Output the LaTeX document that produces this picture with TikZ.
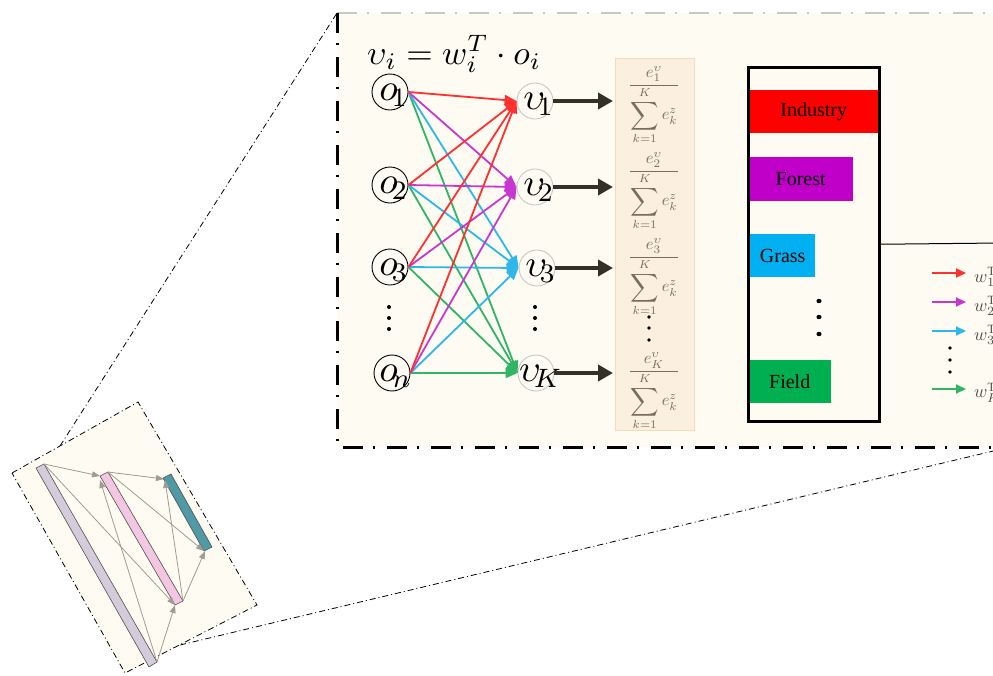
\documentclass[tikz,border=0pt]{standalone}
\usepackage{fontspec}
\setmainfont{Liberation Serif}
\usetikzlibrary{arrows.meta,calc}
\definecolor{cream}{RGB}{253,251,242}
\definecolor{ered}{RGB}{255,48,48}
\definecolor{emag}{RGB}{200,55,208}
\definecolor{ecyan}{RGB}{45,183,234}
\definecolor{egreen}{RGB}{48,181,102}
\definecolor{darkarrow}{RGB}{51,48,40}
\definecolor{fracfill}{RGB}{251,239,224}
\definecolor{fracborder}{RGB}{248,217,186}
\definecolor{fractext}{RGB}{120,110,95}
\definecolor{barred}{RGB}{255,0,0}
\definecolor{barmag}{RGB}{192,0,200}
\definecolor{barcyan}{RGB}{0,176,240}
\definecolor{bargreen}{RGB}{0,176,80}
\definecolor{sgray}{RGB}{160,156,148}
\definecolor{vgray}{RGB}{200,200,200}
\definecolor{bara}{RGB}{213,204,219}
\definecolor{barb}{RGB}{243,198,226}
\definecolor{barc}{RGB}{79,154,165}
\definecolor{legtxt}{RGB}{80,80,80}
\newcommand\bigsumsym{\mathop{\vcenter{\hbox{\scalebox{1.2}{$\displaystyle\sum$}}}}\limits}
\newcommand\fracsm[1]{\scalebox{1.65}{$\displaystyle\frac{e_{#1}^{\upsilon}}{\displaystyle\bigsumsym_{k=1}^{K} e_k^{z}}$}}
\newcommand\nlab[2]{\scalebox{3.8}{$#1_{\kern-1.6pt #2}$}}
\begin{document}
\begin{tikzpicture}[x=1pt,y=-1pt,
  onode/.style={circle,draw=black,line width=0.9pt,minimum size=36pt,inner sep=0pt},
  vnode/.style={circle,draw=vgray,line width=0.9pt,minimum size=36pt,inner sep=0pt},
  ntext/.style={inner sep=0pt},
  wedge/.style={line width=1.8pt,-{Triangle[length=12pt,width=10pt]}},
  bigarrow/.style={line width=4pt,draw=darkarrow,-{Triangle[length=15pt,width=16pt]},shorten >=2pt},
  fractxt/.style={inner sep=0pt,text=fractext,anchor=base},
  catbar/.style={inner sep=0pt,anchor=north west,font=\fontsize{20}{24}\selectfont,text=black},
  legarrow/.style={line width=2pt,-{Triangle[length=10pt,width=9pt]}},
  legtext/.style={inner sep=0pt,anchor=west,text=legtxt},
  sarrow/.style={draw=sgray,line width=0.8pt,-{Triangle[length=8pt,width=6pt,fill=sgray]}},
  sbar/.style={draw={rgb,255:red,80;green,80;blue,80},line width=0.6pt},
  bigdash/.style={line width=3pt,dash pattern=on 20pt off 10pt on 2pt off 12pt},
  topdash/.style={line width=1.5pt,draw=vgray,dash pattern=on 20pt off 10pt on 2pt off 12pt},
  smalldash/.style={line width=0.8pt,dash pattern=on 6pt off 3pt on 1pt off 3pt}
]
\useasboundingbox (0,0) rectangle (993,675);

% ---------- connector lines between the panels
\coordinate (sp1) at (60,446);
\coordinate (bp1) at (337,13);
\coordinate (sp2) at (180,645);
\coordinate (bp2) at (1010,447);
\draw[smalldash] (sp1) -- (bp1);
\draw[smalldash] (sp2) -- (bp2);

% ---------- big panel
\fill[cream] (337,13) rectangle (1020,447);
\draw[topdash] (337,13) -- (1020,13);
\draw[bigdash] (337,13) -- (337,447) -- (1020,447);

% ---------- small panel
\draw[smalldash,fill=cream] (12,473) -- (138,402) -- (257,605) -- (125,673) -- cycle;
\fill[bara] (36,468) -- (44,464) -- (157,662) -- (149,667) -- cycle;
\draw[sbar] (36,468) -- (44,464) -- (157,662) -- (149,667) -- cycle;
\fill[barb] (100,476) -- (108,472) -- (183,601) -- (175,605) -- cycle;
\draw[sbar] (100,476) -- (108,472) -- (183,601) -- (175,605) -- cycle;
\fill[barc] (163,478) -- (171,474) -- (212,547) -- (204,551) -- cycle;
\draw[sbar] (163,478) -- (171,474) -- (212,547) -- (204,551) -- cycle;
\coordinate (b1t) at (44,464);
\coordinate (b1b) at (157,662);
\coordinate (b2tl) at (100,476);
\coordinate (b2tr) at (108,472);
\coordinate (b2bl) at (175,605);
\coordinate (b2br) at (183,601);
\coordinate (b3t) at (164,479);
\coordinate (b3b) at (204,551);
\draw[sarrow] (b1t) -- (b2tl);
\draw[sarrow] (b2tr) -- (b3t);
\draw[sarrow] (b1t) -- (b2bl);
\draw[sarrow] (b2tr) -- (b3b);
\draw[sarrow] (b1b) -- ([yshift=-4]b2tl);
\draw[sarrow] (b1b) -- (b2bl);
\draw[sarrow] (b2br) -- ([xshift=1,yshift=-1]b3t);
\draw[sarrow] (b2br) -- ([xshift=1]b3b);

% ---------- formula
\node[inner sep=0pt,anchor=base west] (formula) at (367,64) {\scalebox{3.4}{$\upsilon_i = w_i^T \cdot o_i$}};

% ---------- input and output neurons
\node[onode] (o1) at (390,92) {};
\node[onode] (o2) at (390,185) {};
\node[onode] (o3) at (390,267) {};
\node[onode] (o4) at (392,373) {};
\node[vnode] (v1) at (535,101) {};
\node[vnode] (v2) at (535,187) {};
\node[vnode] (v3) at (537,268) {};
\node[vnode] (v4) at (536,373) {};
\node[ntext] (o1t) at ([xshift=4,yshift=-3]o1) {\nlab{o}{1}};
\node[ntext] (o2t) at ([xshift=4,yshift=-3]o2) {\nlab{o}{2}};
\node[ntext] (o3t) at ([xshift=4,yshift=-3]o3) {\nlab{o}{3}};
\node[ntext] (o4t) at ([xshift=4,yshift=-3]o4) {\nlab{o}{n}};
\node[ntext] (v1t) at ([xshift=4,yshift=-3]v1) {\nlab{\upsilon}{1}};
\node[ntext] (v2t) at ([xshift=4,yshift=-3]v2) {\nlab{\upsilon}{2}};
\node[ntext] (v3t) at ([xshift=4,yshift=-3]v3) {\nlab{\upsilon}{3}};
\node[ntext] (v4t) at ([xshift=5,yshift=-3]v4) {\nlab{\upsilon}{K}};
\foreach \yy in {307,318,329} {
  \fill (389,\yy) circle (2pt);
  \fill (535,\yy) circle (2pt);
}

% ---------- coloured connections
\foreach \s in {o1,o2,o3,o4} {
  \draw[wedge,egreen] (\s.east) -- (v4.west);
  \draw[wedge,ecyan] (\s.east) -- (v3.west);
  \draw[wedge,emag] (\s.east) -- (v2.west);
  \draw[wedge,ered] (\s.east) -- (v1.west);
}

% ---------- softmax box
\node[fill=fracfill,draw=fracborder,line width=1.2pt,minimum width=79pt,minimum height=372pt,anchor=north west,inner sep=0pt] (fbox) at (615,58) {};
\node[fractxt] (f1) at (654,89) {\fracsm{1}};
\node[fractxt] (f2) at (654,175) {\fracsm{2}};
\node[fractxt] (f3) at (654,261) {\fracsm{3}};
\node[fractxt] (f4) at (654,375) {\fracsm{K}};
\foreach \yy in {317,328,340} \fill (649,\yy) circle (1.8pt);

\draw[bigarrow] (v1.east) -- (v1.east -| fbox.west);
\draw[bigarrow] (v2.east) -- (v2.east -| fbox.west);
\draw[bigarrow] (v3.east) -- (v3.east -| fbox.west);
\draw[bigarrow] (v4.east) -- (v4.east -| fbox.west);

% ---------- class box
\node[catbar,fill=barred,minimum width=131pt,minimum height=43pt] (ind) at (748,90) {Industry};
\node[catbar,fill=barmag,minimum width=105pt,minimum height=44pt] (for) at (748,157) {Forest};
\node[catbar,fill=barcyan,minimum width=65pt,minimum height=43pt] (gra) at (750,234) {Grass};
\node[catbar,fill=bargreen,minimum width=83pt,minimum height=43pt] (fie) at (748,360) {Field};
\node[draw=black,line width=2.5pt,minimum width=131pt,minimum height=354pt,anchor=north west,inner sep=0pt] (cbox) at (747,66) {};
\foreach \yy in {301,317,334} \fill (819,\yy) ellipse (2.6pt and 2.2pt);
\coordinate (hlend) at (1000,243);
\draw[line width=1pt] (cbox.east) -- (hlend);

% ---------- legend
\coordinate (l1a) at (932,273); \coordinate (l1b) at (966,273);
\coordinate (l2a) at (932,302); \coordinate (l2b) at (966,302);
\coordinate (l3a) at (932,331); \coordinate (l3b) at (966,331);
\coordinate (l4a) at (932,389); \coordinate (l4b) at (966,389);
\draw[legarrow,ered] (l1a) -- (l1b);
\draw[legarrow,emag] (l2a) -- (l2b);
\draw[legarrow,ecyan] (l3a) -- (l3b);
\draw[legarrow,egreen] (l4a) -- (l4b);
\node[legtext] (w1) at (974,277) {\scalebox{1.8}{$w_1^{\mathrm{T}}$}};
\node[legtext] (w2) at (974,306) {\scalebox{1.8}{$w_2^{\mathrm{T}}$}};
\node[legtext] (w3) at (974,335) {\scalebox{1.8}{$w_3^{\mathrm{T}}$}};
\node[legtext] (w4) at (974,393) {\scalebox{1.8}{$w_K^{\mathrm{T}}$}};
\foreach \yy in {348,360,372} \fill (950,\yy) circle (1.8pt);
\end{tikzpicture}
\end{document}
